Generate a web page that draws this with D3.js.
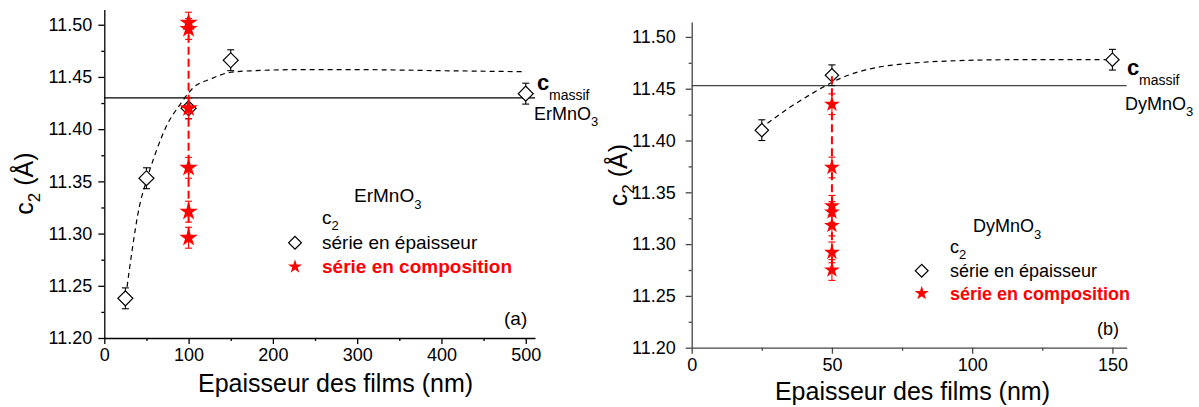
<!DOCTYPE html>
<html>
<head>
<meta charset="utf-8">
<script src="https://cdn.jsdelivr.net/npm/d3@7"></script>
<style>
  body { margin: 0; background: #fff; }
  svg text { font-family: "Liberation Sans", Arial, sans-serif; fill: #000; }
</style>
</head>
<body>
<div id="chart"></div>
<script>
// panel (a) : ErMnO3
const thickA = [25, 50, 100, 150, 500];
const c2ThickA = [11.238, 11.353, 11.420, 11.466, 11.434];
const compXA = [100, 100, 100, 100, 100, 100];
const c2CompA = [11.502, 11.496, 11.420, 11.363, 11.321, 11.296];
const fitXA = [27, 33, 41.5, 49, 59, 75, 89, 106, 126, 150, 178, 232, 300, 400, 500];
const fitYA = [11.249, 11.284, 11.3255, 11.348, 11.373, 11.405, 11.4226, 11.440, 11.448, 11.4545, 11.456, 11.457, 11.457, 11.456, 11.455];
const massifA = 11.43;
const xTicksA = [0, 100, 200, 300, 400, 500];
const xMinorA = [50, 150, 250, 350, 450];

// panel (b) : DyMnO3
const thickB = [25, 50, 150];
const c2ThickB = [11.410, 11.463, 11.478];
const compXB = [50, 50, 50, 50, 50, 50, 50];
const c2CompB = [11.435, 11.374, 11.337, 11.331, 11.318, 11.292, 11.275];
const compTopB = 11.462;
const fitXB = [27, 35, 43, 53, 67, 74, 91, 115, 148];
const fitYB = [11.4166, 11.432, 11.4455, 11.460, 11.471, 11.4735, 11.4767, 11.478, 11.478];
const massifB = 11.453;
const xTicksB = [0, 50, 100, 150];
const xMinorB = [25, 75, 125];

// shared
const errC2 = 0.01;
const yTicks = [11.20, 11.25, 11.30, 11.35, 11.40, 11.45, 11.50];
const yMinor = [11.225, 11.275, 11.325, 11.375, 11.425, 11.475];

const svg = d3.select("#chart")
  .append("svg")
  .attr("width", 1199)
  .attr("height", 407);

function drawPanel(p) {
  const x = d3.scaleLinear().domain(p.xDomain).range(p.xRange);
  const y = d3.scaleLinear().domain([11.2, 11.5145]).range(p.yRange);
  const g = svg.append("g");
  const left = p.xRange[0], right = p.xRange[1], bottom = p.yRange[0];

  // minor ticks
  g.append("g")
    .attr("transform", `translate(0,${bottom})`)
    .call(d3.axisBottom(x).tickValues(p.xMinor).tickSize(3).tickFormat(""))
    .call(s => s.select(".domain").remove());
  g.append("g")
    .attr("transform", `translate(${left},0)`)
    .call(d3.axisLeft(y).tickValues(yMinor).tickSize(3).tickFormat(""))
    .call(s => s.select(".domain").remove());

  // major axes
  const xAxis = g.append("g")
    .attr("transform", `translate(0,${bottom})`)
    .call(d3.axisBottom(x).tickValues(p.xTicks).tickSize(6).tickSizeOuter(0).tickPadding(p.xPad));
  const yAxis = g.append("g")
    .attr("transform", `translate(${left},0)`)
    .call(d3.axisLeft(y).tickValues(yTicks).tickSize(6).tickSizeOuter(0).tickPadding(p.yPad).tickFormat(d3.format(".2f")));
  [xAxis, yAxis].forEach(a => {
    a.attr("font-size", 18).attr("font-family", null);
    a.selectAll("path, line").attr("stroke", p.axisColor).attr("stroke-width", 1.3);
  });
  g.selectAll(".tick line").attr("stroke", p.axisColor).attr("stroke-width", 1.3);

  // bulk value line
  g.append("line")
    .attr("x1", left).attr("x2", right)
    .attr("y1", y(p.massif)).attr("y2", y(p.massif))
    .attr("stroke", p.axisColor)
    .attr("stroke-width", 1.3);

  // fit curve
  g.append("path")
    .datum(p.fitX.map((d, i) => [d, p.fitY[i]]))
    .attr("d", d3.line().x(d => x(d[0])).y(d => y(d[1])).curve(d3.curveMonotoneX))
    .attr("fill", "none")
    .attr("stroke", "#000")
    .attr("stroke-width", 1.2)
    .attr("stroke-dasharray", "5,4");

  // thickness series: error bars + diamonds
  const thick = p.thickX.map((d, i) => ({x: d, y: p.thickY[i]}));
  const eb = g.append("g").attr("stroke", "#000").attr("stroke-width", 1.1);
  thick.forEach(d => {
    eb.append("line").attr("x1", x(d.x)).attr("x2", x(d.x)).attr("y1", y(d.y - errC2)).attr("y2", y(d.y + errC2));
    eb.append("line").attr("x1", x(d.x) - 3.5).attr("x2", x(d.x) + 3.5).attr("y1", y(d.y - errC2)).attr("y2", y(d.y - errC2));
    eb.append("line").attr("x1", x(d.x) - 3.5).attr("x2", x(d.x) + 3.5).attr("y1", y(d.y + errC2)).attr("y2", y(d.y + errC2));
  });
  g.selectAll(".diamond")
    .data(thick)
    .join("path")
    .attr("class", "diamond")
    .attr("d", d3.symbol(d3.symbolSquare, p.diamondSize))
    .attr("transform", d => `translate(${x(d.x)},${y(d.y)}) rotate(45)`)
    .attr("fill", "#fff")
    .attr("stroke", "#000")
    .attr("stroke-width", 1.2);

  // composition series: dashed line, error bars, stars
  const comp = p.compX.map((d, i) => ({x: d, y: p.compY[i]}));
  const top = p.compTop !== undefined ? p.compTop : d3.max(p.compY);
  g.append("line")
    .attr("x1", x(p.compX[0])).attr("x2", x(p.compX[0]))
    .attr("y1", y(top)).attr("y2", y(d3.min(p.compY)))
    .attr("stroke", "#ff0000")
    .attr("stroke-width", 2)
    .attr("stroke-dasharray", "8,4");
  const rb = g.append("g").attr("stroke", "#ff0000").attr("stroke-width", 1.1);
  comp.forEach(d => {
    rb.append("line").attr("x1", x(d.x)).attr("x2", x(d.x)).attr("y1", y(d.y - errC2)).attr("y2", y(d.y + errC2));
    rb.append("line").attr("x1", x(d.x) - 3.5).attr("x2", x(d.x) + 3.5).attr("y1", y(d.y - errC2)).attr("y2", y(d.y - errC2));
    rb.append("line").attr("x1", x(d.x) - 3.5).attr("x2", x(d.x) + 3.5).attr("y1", y(d.y + errC2)).attr("y2", y(d.y + errC2));
  });
  g.selectAll(".star")
    .data(comp)
    .join("path")
    .attr("class", "star")
    .attr("d", d3.symbol(d3.symbolStar, p.starSize))
    .attr("transform", d => `translate(${x(d.x)},${y(d.y)})`)
    .attr("fill", "#ff0000");

  return g;
}

// helper for text with a subscript
function subText(g, xx, yy, main, sub, size, subSize, dy, opts = {}) {
  const t = g.append("text")
    .attr("x", xx).attr("y", yy)
    .attr("font-size", size)
    .attr("font-weight", opts.bold ? "bold" : null)
    .attr("transform", opts.transform || null)
    .attr("text-anchor", opts.anchor || null);
  t.append("tspan").text(main);
  t.append("tspan").attr("font-size", subSize).attr("dy", dy).text(sub);
  if (opts.after) t.append("tspan").attr("dy", -dy).text(opts.after);
  return t;
}

function legend(g, l) {
  subText(g, l.titleX, l.titleY, l.title, "3", l.size, 13, 7);
  subText(g, l.textX, l.c2Y, "c", "2", l.size, 13, 6);
  g.append("path")
    .attr("d", d3.symbol(d3.symbolSquare, 82))
    .attr("transform", `translate(${l.symX},${l.row1}) rotate(45)`)
    .attr("fill", "#fff").attr("stroke", "#000").attr("stroke-width", 1.2);
  g.append("text").attr("x", l.textX).attr("y", l.row1 + 6.5).attr("font-size", l.size).text("série en épaisseur");
  g.append("path")
    .attr("d", d3.symbol(d3.symbolStar, 62))
    .attr("transform", `translate(${l.symX},${l.row2})`)
    .attr("fill", "#ff0000");
  g.append("text").attr("x", l.textX).attr("y", l.row2 + 6.5).attr("font-size", l.size)
    .attr("font-weight", "bold").style("fill", "#ff0000").text("série en composition");
  g.append("text").attr("x", l.tagX).attr("y", l.tagY).attr("font-size", l.size).text(l.tag);
}

// ---- panel (a)
const gA = drawPanel({
  xDomain: [0, 511], xRange: [104.3, 535], yRange: [338, 9.6],
  xTicks: xTicksA, xMinor: xMinorA, xPad: 4, yPad: 6,
  axisColor: "#000",
  thickX: thickA, thickY: c2ThickA,
  compX: compXA, compY: c2CompA,
  fitX: fitXA, fitY: fitYA, massif: massifA,
  diamondSize: 112, starSize: 105
});
gA.append("text").attr("x", 198).attr("y", 392).attr("font-size", 25).text("Epaisseur des films (nm)");
subText(gA, 0, 0, "c", "2", 25, 17, 7, {transform: "translate(33,183.5) rotate(-90)", anchor: "middle", after: " (Å)"});
gA.append("text").attr("x", 537).attr("y", 90).attr("font-size", 22).attr("font-weight", "bold").text("c");
gA.append("text").attr("x", 549).attr("y", 100).attr("font-size", 14).text("massif");
subText(gA, 534, 120, "ErMnO", "3", 18, 13, 6);
legend(gA, {
  title: "ErMnO", titleX: 354, titleY: 202, size: 19,
  textX: 322, c2Y: 224, symX: 295, row1: 242.7, row2: 266.7,
  tag: "(a)", tagX: 504, tagY: 325
});

// ---- panel (b)
const gB = drawPanel({
  xDomain: [0, 155.1], xRange: [691.7, 1126.7], yRange: [347.7, 21.9],
  xTicks: xTicksB, xMinor: xMinorB, xPad: 5, yPad: 10,
  axisColor: "#444",
  thickX: thickB, thickY: c2ThickB,
  compX: compXB, compY: c2CompB, compTop: compTopB,
  fitX: fitXB, fitY: fitYB, massif: massifB,
  diamondSize: 90, starSize: 78
});
gB.append("text").attr("x", 1050).attr("y", 400).attr("font-size", 25).attr("text-anchor", "end").text("Epaisseur des films (nm)");
subText(gB, 0, 0, "c", "2", 25, 17, 7, {transform: "translate(627,175) rotate(-90)", anchor: "middle", after: " (Å)"});
gB.append("text").attr("x", 1127).attr("y", 75).attr("font-size", 22).attr("font-weight", "bold").text("c");
gB.append("text").attr("x", 1139).attr("y", 85).attr("font-size", 14).text("massif");
subText(gB, 1125, 110, "DyMnO", "3", 18, 13, 6);
legend(gB, {
  title: "DyMnO", titleX: 973, titleY: 232, size: 18,
  textX: 950, c2Y: 253, symX: 921.7, row1: 270.7, row2: 293.3,
  tag: "(b)", tagX: 1097, tagY: 335
});
</script>
</body>
</html>
